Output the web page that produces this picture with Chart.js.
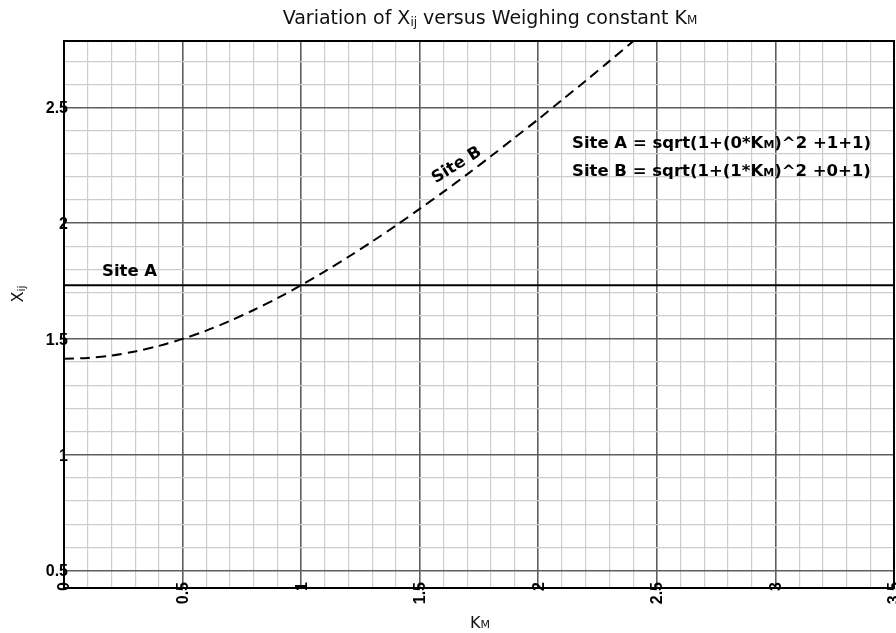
<!DOCTYPE html>
<html>
<head>
<meta charset="utf-8">
<script src="https://cdn.jsdelivr.net/npm/chart.js@4.4.0/dist/chart.umd.min.js"></script>
<style>
  body { margin: 0; background: #fff; }
  #wrap { width: 896px; height: 633px; }
</style>
</head>
<body>
<div id="wrap"><canvas id="chart"></canvas></div>
<script>
// values
const siteAKm = [0, 3.5];
const siteAValues = [1.732, 1.732];

const siteBKm = [0, 0.1, 0.2, 0.3, 0.4, 0.5, 0.6, 0.7, 0.8, 0.9, 1.0, 1.1, 1.2,
    1.3, 1.4, 1.5, 1.6, 1.7, 1.8, 1.9, 2.0, 2.1, 2.2, 2.3, 2.4, 2.5];
const siteBValues = [1.414, 1.418, 1.428, 1.446, 1.470, 1.500, 1.536, 1.578, 1.625,
    1.676, 1.732, 1.792, 1.855, 1.921, 1.990, 2.062, 2.135, 2.211, 2.289, 2.369,
    2.449, 2.532, 2.615, 2.700, 2.786, 2.872];

const xTickLabels = ['0', '0.5', '1', '1.5', '2', '2.5', '3', '3.5'];
const yTickLabels = ['0.5', '1', '1.5', '2', '2.5'];

const textFont = '"DejaVu Sans", sans-serif';
const tickFont = 'bold 16px "Liberation Sans", Arial, sans-serif';

function toPoints(xs, ys) {
    return xs.map((x, i) => ({ x: x, y: ys[i] }));
}

function isMajor(v) {
    return Math.abs(v * 2 - Math.round(v * 2)) < 1e-6;
}

const gridOptions = {
    drawTicks: false,
    color: (c) => isMajor(c.tick.value) ? '#5e5e5e' : '#cdcdcd',
    lineWidth: (c) => isMajor(c.tick.value) ? 1.6 : 1.2,
};

// draw a run of text pieces with different fonts (for subscripts)
function drawParts(ctx, parts, x, y, align) {
    let total = 0;
    parts.forEach(p => { ctx.font = p.font; total += ctx.measureText(p.text).width; });
    let cx = align === 'center' ? x - total / 2 : x;
    parts.forEach(p => {
        ctx.font = p.font;
        ctx.fillText(p.text, cx, y + (p.dy || 0));
        cx += ctx.measureText(p.text).width;
    });
}

const textPlugin = {
    id: 'texts',
    afterDraw(chart) {
        const ctx = chart.ctx;
        const area = chart.chartArea;
        const xs = chart.scales.x;
        const ys = chart.scales.y;
        ctx.save();
        ctx.fillStyle = '#000';

        // tick labels sit across the axis lines, so they are drawn here
        ctx.font = tickFont;
        ctx.textAlign = 'right';
        ctx.textBaseline = 'middle';
        yTickLabels.forEach(l => {
            ctx.fillText(l, area.left + 4, ys.getPixelForValue(parseFloat(l)) + 1.5);
        });
        xTickLabels.forEach(l => {
            ctx.save();
            ctx.translate(xs.getPixelForValue(parseFloat(l)) + 1, area.bottom - 6);
            ctx.rotate(-Math.PI / 2);
            ctx.fillText(l, 0, 0);
            ctx.restore();
        });

        // frame round the plot
        ctx.strokeStyle = '#000';
        ctx.lineWidth = 2;
        ctx.strokeRect(area.left, area.top, area.right - area.left, area.bottom - area.top);

        ctx.fillStyle = '#111';
        ctx.textBaseline = 'alphabetic';
        ctx.textAlign = 'left';

        drawParts(ctx, [
            { text: 'Variation of X', font: '19px ' + textFont },
            { text: 'ij', font: '12px ' + textFont, dy: 2 },
            { text: ' versus Weighing constant K', font: '19px ' + textFont },
            { text: 'M', font: '12px ' + textFont },
        ], 490, 24, 'center');

        // axis titles
        drawParts(ctx, [
            { text: 'K', font: '16px ' + textFont },
            { text: 'M', font: '11px ' + textFont },
        ], 470, 628, 'left');

        ctx.save();
        ctx.translate(23, 294);
        ctx.rotate(-Math.PI / 2);
        drawParts(ctx, [
            { text: 'X', font: '16px ' + textFont },
            { text: 'ij', font: '11px ' + textFont, dy: 2 },
        ], 0, 0, 'center');
        ctx.restore();

        // notes
        const bold = 'bold 16.5px ' + textFont;
        const boldSub = 'bold 11px ' + textFont;
        ctx.fillStyle = '#000';
        drawParts(ctx, [{ text: 'Site A', font: bold }], 102, 276, 'left');

        drawParts(ctx, [
            { text: 'Site A = sqrt(1+(0*K', font: bold },
            { text: 'M', font: boldSub },
            { text: ')^2 +1+1)', font: bold },
        ], 572, 148, 'left');
        drawParts(ctx, [
            { text: 'Site B = sqrt(1+(1*K', font: bold },
            { text: 'M', font: boldSub },
            { text: ')^2 +0+1)', font: bold },
        ], 572, 176, 'left');

        ctx.save();
        ctx.translate(459, 169);
        ctx.rotate(-32 * Math.PI / 180);
        drawParts(ctx, [{ text: 'Site B', font: bold }], 0, 0, 'center');
        ctx.restore();

        ctx.restore();
    }
};

const chart = new Chart(document.getElementById('chart'), {
    type: 'line',
    data: {
        datasets: [{
            label: 'Site A',
            data: toPoints(siteAKm, siteAValues),
            borderColor: '#000',
            borderWidth: 2,
            pointRadius: 0,
            tension: 0,
        }, {
            label: 'Site B',
            data: toPoints(siteBKm, siteBValues),
            borderColor: '#000',
            borderWidth: 2,
            borderDash: [10, 6],
            pointRadius: 0,
            tension: 0.3,
        }],
    },
    options: {
        animation: false,
        responsive: true,
        maintainAspectRatio: false,
        layout: { padding: { top: 41, right: 2, left: 0, bottom: 0 } },
        plugins: {
            legend: { display: false },
            tooltip: { enabled: false },
        },
        scales: {
            x: {
                type: 'linear',
                min: 0,
                max: 3.5,
                afterFit: (s) => { s.height = 45; },
                grid: gridOptions,
                border: { display: false },
                ticks: { stepSize: 0.1, autoSkip: false, display: false },
            },
            y: {
                min: 0.424,
                max: 2.787,
                afterFit: (s) => { s.width = 64; },
                grid: gridOptions,
                border: { display: false },
                ticks: { stepSize: 0.1, autoSkip: false, display: false },
            },
        },
    },
    plugins: [textPlugin],
});
</script>
</body>
</html>
